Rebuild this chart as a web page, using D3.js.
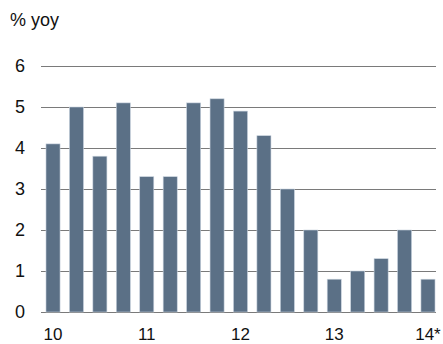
<!DOCTYPE html>
<html>
<head>
<meta charset="utf-8">
<script src="https://cdn.jsdelivr.net/npm/d3@7"></script>
<style>
  body { margin: 0; background: #fff; }
  text { font-family: "Liberation Sans", Arial, sans-serif; fill: #111; }
</style>
</head>
<body>
<div id="chart-area"></div>
<script>
// quarterly values, % yoy
var quarters = ["10Q1","10Q2","10Q3","10Q4","11Q1","11Q2","11Q3","11Q4",
                "12Q1","12Q2","12Q3","12Q4","13Q1","13Q2","13Q3","13Q4","14Q1"];
var values = [4.1, 5.0, 3.8, 5.1, 3.3, 3.3, 5.1, 5.2, 4.9, 4.3, 3.0, 2.0, 0.8, 1.0, 1.3, 2.0, 0.8];
var yTicks = [0, 1, 2, 3, 4, 5, 6];
var xLabels = [["10Q1","10"], ["11Q1","11"], ["12Q1","12"], ["13Q1","13"], ["14Q1","14*"]];

var width = 443, height = 344;

var svg = d3.select("#chart-area").append("svg")
    .attr("width", width)
    .attr("height", height);

var xScale = d3.scaleBand()
    .domain(quarters)
    .range([41.3, 439.7])
    .paddingInner(0.4)
    .paddingOuter(0.2);

var yScale = d3.scaleLinear()
    .domain([0, 6])
    .range([312, 66]);

// gridlines
svg.selectAll(".grid")
    .data(yTicks)
    .enter()
    .append("line")
    .attr("x1", 41)
    .attr("x2", 436)
    .attr("y1", d => yScale(d) + 0.5)
    .attr("y2", d => yScale(d) + 0.5)
    .attr("stroke", "#7a7a7a")
    .attr("stroke-width", 1);

// y labels
svg.selectAll(".ylab")
    .data(yTicks)
    .enter()
    .append("text")
    .attr("x", 20)
    .attr("y", d => yScale(d))
    .attr("dy", "0.36em")
    .attr("text-anchor", "middle")
    .style("font-size", "18px")
    .text(d => d);

// bars
svg.selectAll(".bar")
    .data(values)
    .enter()
    .append("rect")
    .attr("x", (d, i) => xScale(quarters[i]))
    .attr("y", d => yScale(d))
    .attr("width", xScale.bandwidth())
    .attr("height", d => yScale(0) - yScale(d))
    .attr("fill", "#5b7086")
    .attr("stroke", "#c9d3de")
    .attr("stroke-width", 0.6);

// x labels
svg.selectAll(".xlab")
    .data(xLabels)
    .enter()
    .append("text")
    .attr("x", d => xScale(d[0]) + xScale.bandwidth() / 2)
    .attr("y", 340)
    .attr("text-anchor", "middle")
    .style("font-size", "17px")
    .text(d => d[1]);

// unit label
svg.append("text")
    .attr("x", 10)
    .attr("y", 26)
    .style("font-size", "18px")
    .text("% yoy");
</script>
</body>
</html>
